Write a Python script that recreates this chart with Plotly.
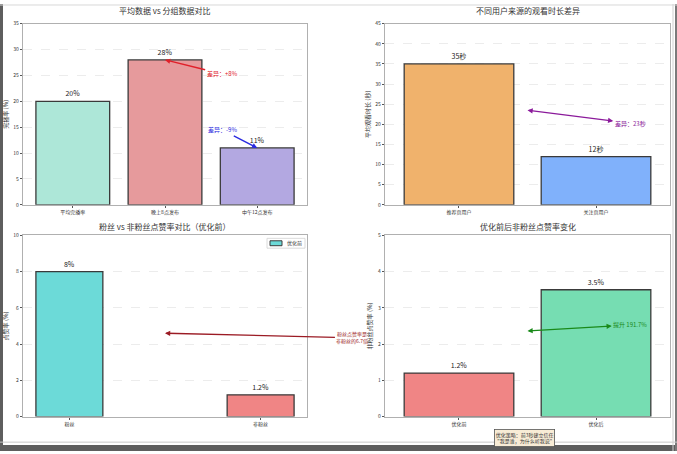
import plotly.graph_objects as go

# top-left: completion rate
cats_1 = ["平均完播率", "晚上8点发布", "中午12点发布"]
vals_1 = [20, 28, 11]
text_1 = ["20%", "28%", "11%"]

# top-right: watch time by source
cats_2 = ["推荐页用户", "关注页用户"]
vals_2 = [35, 12]
text_2 = ["35秒", "12秒"]

# bottom-left: fans vs non-fans like rate
cats_3 = ["粉丝", "非粉丝"]
vals_3 = [8, 1.2]
text_3 = ["8%", "1.2%"]

# bottom-right: non-fan like rate before/after
cats_4 = ["优化前", "优化后"]
vals_4 = [1.2, 3.5]
text_4 = ["1.2%", "3.5%"]

FONT = "Noto Sans CJK SC, Noto Sans, sans-serif"
EDGE = "#3a3a3a"
SPINE = "#b0b0b0"
W, H = 677, 454

fig = go.Figure()

def add_bars(cats, vals, text, colors, xa, ya, width):
    fig.add_trace(go.Bar(
        x=cats, y=vals, text=text, textposition="outside",
        textfont=dict(size=7, color="#222"),
        marker=dict(color=colors, line=dict(color=EDGE, width=1.3)),
        width=width, xaxis=xa, yaxis=ya, cliponaxis=False, showlegend=False,
    ))

add_bars(cats_1, vals_1, text_1, ["#ade7d8", "#e69a9c", "#b3a8e1"], "x", "y", 0.8)
add_bars(cats_2, vals_2, text_2, ["#f0b26c", "#80b1fb"], "x2", "y2", 0.8)
add_bars(cats_3, vals_3, text_3, ["#6cdad8", "#f08585"], "x3", "y3", 0.35)
add_bars(cats_4, vals_4, text_4, ["#f08585", "#76ddb2"], "x4", "y4", 0.8)

xl, xr = 23 / W, 307 / W
xl2, xr2 = 385 / W, 670 / W
yt_top, yb_top = 1 - 20 / H, 1 - 204 / H
yt_bot, yb_bot = 1 - 235 / H, 1 - 419 / H

axis_common = dict(showline=True, linecolor=SPINE, linewidth=1.3, mirror=True,
                   ticks="outside", ticklen=2, tickcolor="#555",
                   tickfont=dict(size=5, color="#333"), zeroline=False)

def xaxis(dom, rng, anchor):
    return dict(domain=dom, range=rng, anchor=anchor, showgrid=False, **axis_common)

def yaxis(dom, top, dtick, title, anchor):
    return dict(domain=dom, range=[0, top], dtick=dtick, anchor=anchor,
                showgrid=True, gridcolor="#ececec", griddash="dash", gridwidth=0.8,
                title=dict(text=title, font=dict(size=6, color="#333"), standoff=4),
                **axis_common)

fig.update_layout(
    width=W, height=H,
    margin=dict(l=0, r=0, t=0, b=0),
    paper_bgcolor="white", plot_bgcolor="white",
    font=dict(family=FONT, color="#333"),
    showlegend=False,
    xaxis=xaxis([xl, xr], [-0.54, 2.54], "y"),
    yaxis=yaxis([yb_top, yt_top], 35, 5, "完播率 (%)", "x"),
    xaxis2=xaxis([xl2, xr2], [-0.54, 1.54], "y2"),
    yaxis2=yaxis([yb_top, yt_top], 45, 5, "平均观看时长 (秒)", "x2"),
    xaxis3=xaxis([xl, xr], [-0.2425, 1.2425], "y3"),
    yaxis3=yaxis([yb_bot, yt_bot], 10, 2, "点赞率 (%)", "x3"),
    xaxis4=xaxis([xl2, xr2], [-0.54, 1.54], "y4"),
    yaxis4=yaxis([yb_bot, yt_bot], 5, 1, "非粉丝点赞率 (%)", "x4"),
)

titles = [
    ("平均数据 vs 分组数据对比", (xl + xr) / 2, 1 - 7 / H),
    ("不同用户来源的观看时长差异", (xl2 + xr2) / 2, 1 - 7 / H),
    ("粉丝 vs 非粉丝点赞率对比（优化前）", (xl + xr) / 2, 1 - 226 / H),
    ("优化前后非粉丝点赞率变化", (xl2 + xr2) / 2, 1 - 226 / H),
]
for t, x, y in titles:
    fig.add_annotation(text=t, x=x, y=y, xref="paper", yref="paper",
                       xanchor="center", yanchor="middle",
                       showarrow=False, font=dict(size=8, color="#333"))

# small legend box in the bottom-left panel
fig.add_shape(type="rect", xref="paper", yref="paper",
              x0=267 / W, x1=305 / W, y0=1 - 248 / H, y1=1 - 238 / H,
              fillcolor="white", line=dict(color="#d0d0d0", width=0.8))
fig.add_shape(type="rect", xref="paper", yref="paper",
              x0=270 / W, x1=282 / W, y0=1 - 245.5 / H, y1=1 - 240.5 / H,
              fillcolor="#6cdad8", line=dict(color=EDGE, width=1))
fig.add_annotation(text="优化前", x=285 / W, y=1 - 243 / H, xref="paper", yref="paper",
                   xanchor="left", yanchor="middle", showarrow=False,
                   font=dict(size=5, color="#333"))

def arrow(text, xy, xyt, color, axes, both=False, size=6):
    xa, ya = axes
    fig.add_annotation(text=text, x=xy[0], y=xy[1], ax=xyt[0], ay=xyt[1],
                       xref=xa, yref=ya, axref=xa, ayref=ya,
                       showarrow=True, arrowhead=2, arrowsize=0.8, arrowwidth=1.3,
                       arrowside="end+start" if both else "end",
                       arrowcolor=color, font=dict(size=size, color=color))

arrow("差异：+8%", (1, 28), (1.62, 25.3), "#e0202a", ("x", "y"))
arrow("差异：-9%", (2, 11), (1.62, 14.5), "#2a2ae0", ("x", "y"))
arrow("差异：23秒", (0.5, 23.5), (1.25, 20.3), "#8b1a9b", ("x2", "y2"), both=True)
arrow("粉丝点赞率是<br>非粉丝的6.7倍", (0.5, 4.6), (1.48, 4.35), "#9b1b24", ("x3", "y3"), size=5)
arrow("提升 191.7%", (0.5, 2.36), (1.25, 2.53), "#1a8a1a", ("x4", "y4"), both=True)

fig.add_annotation(text="优化策略：前3秒建立信任<br>\"我是谁，为什么听我说\"",
                   x=524 / W, y=1 - 441 / H, xref="paper", yref="paper",
                   xanchor="center", yanchor="middle",
                   showarrow=False, font=dict(size=5, color="#333"),
                   bgcolor="#f8ecd6", bordercolor="#555", borderwidth=0.8, borderpad=1)

# screenshot frame
frame = [
    (0, 0, 3 / W, 1, "#5e5e5e"),
    (0, 0, 1, 6 / H, "#5e5e5e"),
    (675 / W, 0, 1, 1, "#7a7a7a"),
]
for x0, y0, x1, y1, c in frame:
    fig.add_shape(type="rect", xref="paper", yref="paper", x0=x0, y0=y0, x1=x1, y1=y1,
                  fillcolor=c, line=dict(width=0), layer="above")
fig.add_shape(type="line", xref="paper", yref="paper", x0=0, x1=1,
              y0=1 - 445 / H, y1=1 - 445 / H, line=dict(color="#c8c8c8", width=1))
fig.add_shape(type="line", xref="paper", yref="paper", x0=673 / W, x1=673 / W,
              y0=0, y1=1, line=dict(color="#cfcfcf", width=1))
fig.add_shape(type="line", xref="paper", yref="paper", x0=0, x1=1,
              y0=1 - 1 / H, y1=1 - 1 / H, line=dict(color="#d8d8d8", width=1))

fig.write_html("out.html", config={"displayModeBar": False},
               post_script="document.body.style.margin='0';document.body.style.overflow='hidden';")
